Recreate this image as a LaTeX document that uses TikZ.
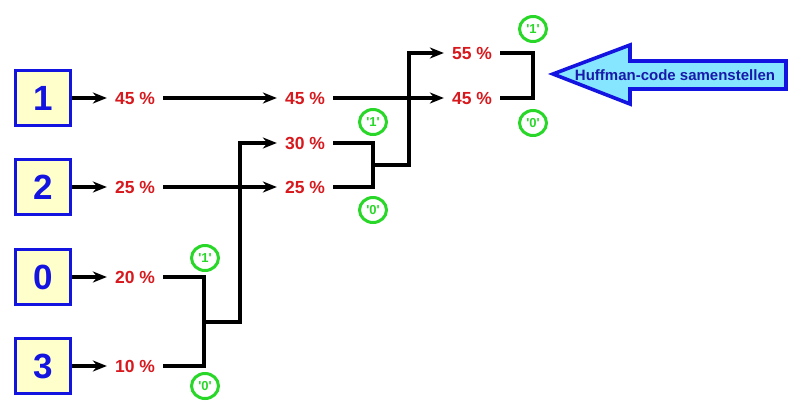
\documentclass[tikz,border=0pt]{standalone}
\usepackage{fontspec}
\setmainfont{Liberation Sans}
\usetikzlibrary{arrows.meta,shapes.geometric}
\definecolor{boxblue}{RGB}{20,20,225}
\definecolor{boxfill}{RGB}{255,255,204}
\definecolor{pctred}{RGB}{215,25,30}
\definecolor{bitgreen}{RGB}{40,215,40}
\definecolor{arrfill}{RGB}{135,230,255}
\definecolor{txtblue}{RGB}{25,25,170}
\begin{document}
\begin{tikzpicture}[x=1pt,y=-1pt,
  numbox/.style={draw=boxblue,fill=boxfill,line width=3.6pt,minimum width=55pt,minimum height=55pt,inner sep=0pt,font=\fontsize{35}{37}\selectfont\bfseries,text=boxblue},
  pct/.style={font=\fontsize{17.5}{19}\selectfont\bfseries,text=pctred,inner xsep=8pt,inner ysep=2pt},
  bit/.style={draw=bitgreen,line width=3pt,ellipse,minimum width=27pt,minimum height=25pt,inner sep=0pt,font=\fontsize{13}{14}\selectfont\bfseries,text=bitgreen},
  conn/.style={line width=3.4pt,black},
  arr/.style={conn,-{Stealth[length=14pt,width=11pt]}}]
\useasboundingbox (0,0) rectangle (800,420);
% source boxes
\node[numbox] (b1) at (43,98) {1};
\node[numbox] (b2) at (43,187) {2};
\node[numbox] (b0) at (43,277) {0};
\node[numbox] (b3) at (43,366) {3};
% first column
\node[pct] (p45a) at (135,98) {45 \%};
\node[pct] (p25a) at (135,187) {25 \%};
\node[pct] (p20) at (135,277) {20 \%};
\node[pct] (p10) at (135,366) {10 \%};
% second column
\node[pct] (p45b) at (305,98) {45 \%};
\node[pct] (p30) at (305,143) {30 \%};
\node[pct] (p25b) at (305,187) {25 \%};
% third column
\node[pct] (p55) at (472,53) {55 \%};
\node[pct] (p45c) at (472,98) {45 \%};
% arrows from boxes
\draw[arr] (b1) -- (p45a);
\draw[arr] (b2) -- (p25a);
\draw[arr] (b0) -- (p20);
\draw[arr] (b3) -- (p10);
% straight through
\draw[arr] (p45a) -- (p45b);
\draw[arr] (p25a) -- (p25b);
\draw[arr] (p45b) -- (p45c);
% bracket 1
\coordinate (j1) at (204,322);
\coordinate (k1) at (240,322);
\draw[conn] (p20.east) -| (j1) |- (p10.east);
\draw[arr] (j1) -- (k1) |- (p30);
% bracket 2
\coordinate (j2) at (373,165);
\coordinate (k2) at (409,165);
\draw[conn] (p30.east) -| (j2) |- (p25b.east);
\draw[arr] (j2) -- (k2) |- (p55);
% bracket 3
\coordinate (j3) at (533,75);
\draw[conn] (p55.east) -| (j3) |- (p45c.east);
% bits
\node[bit] (c1a) at (205,258) {\textquotesingle1\textquotesingle};
\node[bit] (c0a) at (205,386) {\textquotesingle0\textquotesingle};
\node[bit] (c1b) at (373,122) {\textquotesingle1\textquotesingle};
\node[bit] (c0b) at (373,210) {\textquotesingle0\textquotesingle};
\node[bit] (c1c) at (533,29) {\textquotesingle1\textquotesingle};
\node[bit] (c0c) at (533,123) {\textquotesingle0\textquotesingle};
% big arrow
\draw[draw=boxblue,fill=arrfill,line width=3.6pt,line join=miter]
  (553,74) -- (630,45) -- (630,61) -- (786,61) -- (786,89) -- (630,89) -- (630,104) -- cycle;
\node[font=\fontsize{15}{17}\selectfont\bfseries,text=txtblue] (huff) at (675,75) {Huffman-code samenstellen};
\end{tikzpicture}
\end{document}
